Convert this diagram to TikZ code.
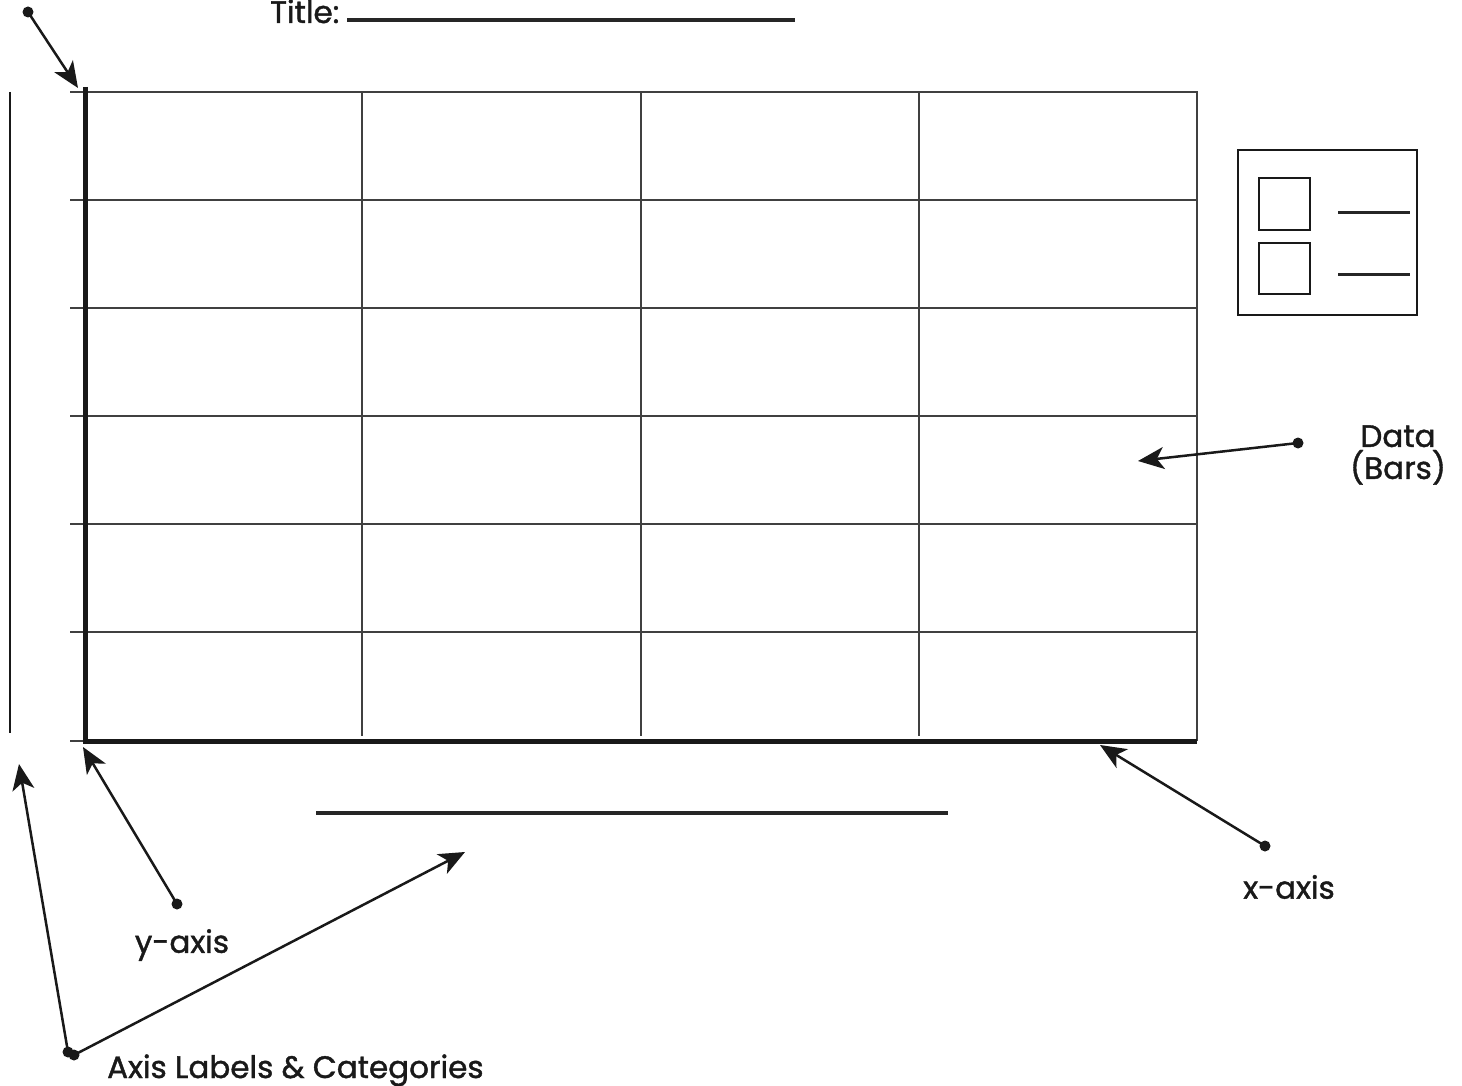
\documentclass[tikz,border=0pt]{standalone}
\usepackage{fontspec}
\setmainfont{Poppins}[FakeBold=1.3]
\usetikzlibrary{arrows.meta}

\begin{document}
\begin{tikzpicture}[x=1pt, y=-1pt,
            every node/.style={font=\fontsize{31}{32}\selectfont, text=black!90},
            dot/.style={circle, fill=black!90, inner sep=0pt, minimum size=11pt},
            pointer/.style={-{Stealth[length=26pt, width=22pt, inset=7pt]}, line width=2.5pt, black!90}]
                \useasboundingbox (0,0) rectangle (1462,1086);

                % title
                \node[anchor=base west, inner sep=0pt] (title) at (270,23) {Title:};
                \draw[line width=4pt, black!85] (347,20) -- (795,20);

                % grid of the chart
                \draw[line width=1.5pt, black!75] (70,92) -- (1197,92) -- (1197,741);
                \draw[line width=1.5pt, black!75] (70,200) -- (1197,200);
                \draw[line width=1.5pt, black!75] (70,308) -- (1197,308);
                \draw[line width=1.5pt, black!75] (70,416) -- (1197,416);
                \draw[line width=1.5pt, black!75] (70,524) -- (1197,524);
                \draw[line width=1.5pt, black!75] (70,632) -- (1197,632);
                \draw[line width=1.5pt, black!75] (70,741) -- (85,741);
                \draw[line width=1.5pt, black!75] (362,92) -- (362,736);
                \draw[line width=1.5pt, black!75] (641,92) -- (641,736);
                \draw[line width=1.5pt, black!75] (919,92) -- (919,736);
                \draw[line width=5pt, black!90] (85,87) -- (85,741) -- (1197,741);

                % axis label lines
                \draw[line width=2pt, black!90] (10,92) -- (10,733);
                \draw[line width=4.5pt, black!85] (316,813) -- (948,813);

                % legend
                \draw[line width=2.5pt, black!90] (1238,150) rectangle (1417,315);
                \draw[line width=2.2pt, black!90] (1259,178) rectangle (1310,230);
                \draw[line width=2.2pt, black!90] (1259,243) rectangle (1310,294);
                \draw[line width=3pt, black!85] (1338,213) -- (1410,213);
                \draw[line width=3pt, black!85] (1338,274) -- (1410,274);

                % labels
                \node[align=center] (ldata) at (1398,455) {Data\\(Bars)};
                \node (lx) at (1289,887) {x-axis};
                \node (ly) at (182,945) {y-axis};
                \node[anchor=base west, inner sep=0pt] (lcat) at (107,1078) {Axis Labels \& Categories};

                % dots and tips
                \node[dot] (dtop) at (28,12) {};
                \node[dot] (ddata) at (1298,443) {};
                \node[dot] (dx) at (1265,846) {};
                \node[dot] (dy) at (177,904) {};
                \node[dot] (dcat) at (68,1052) {};
                \node[dot] (dcat2) at (74,1055) {};
                \coordinate (ttop) at (78,88);
                \coordinate (tdata) at (1138,461);
                \coordinate (tx) at (1100,745);
                \coordinate (ty) at (83,747);
                \coordinate (tcat) at (19,764);
                \coordinate (tcat2) at (465,852);

            \begin{scope}[pointer]
                \draw (dtop.center) -- (ttop);
                \draw (ddata.center) -- (tdata);
                \draw (dx.center) -- (tx);
                \draw (dy.center) -- (ty);
                \draw (dcat.center) -- (tcat);
                \draw (dcat2.center) -- (tcat2);
            \end{scope}
        \end{tikzpicture}
\end{document}
